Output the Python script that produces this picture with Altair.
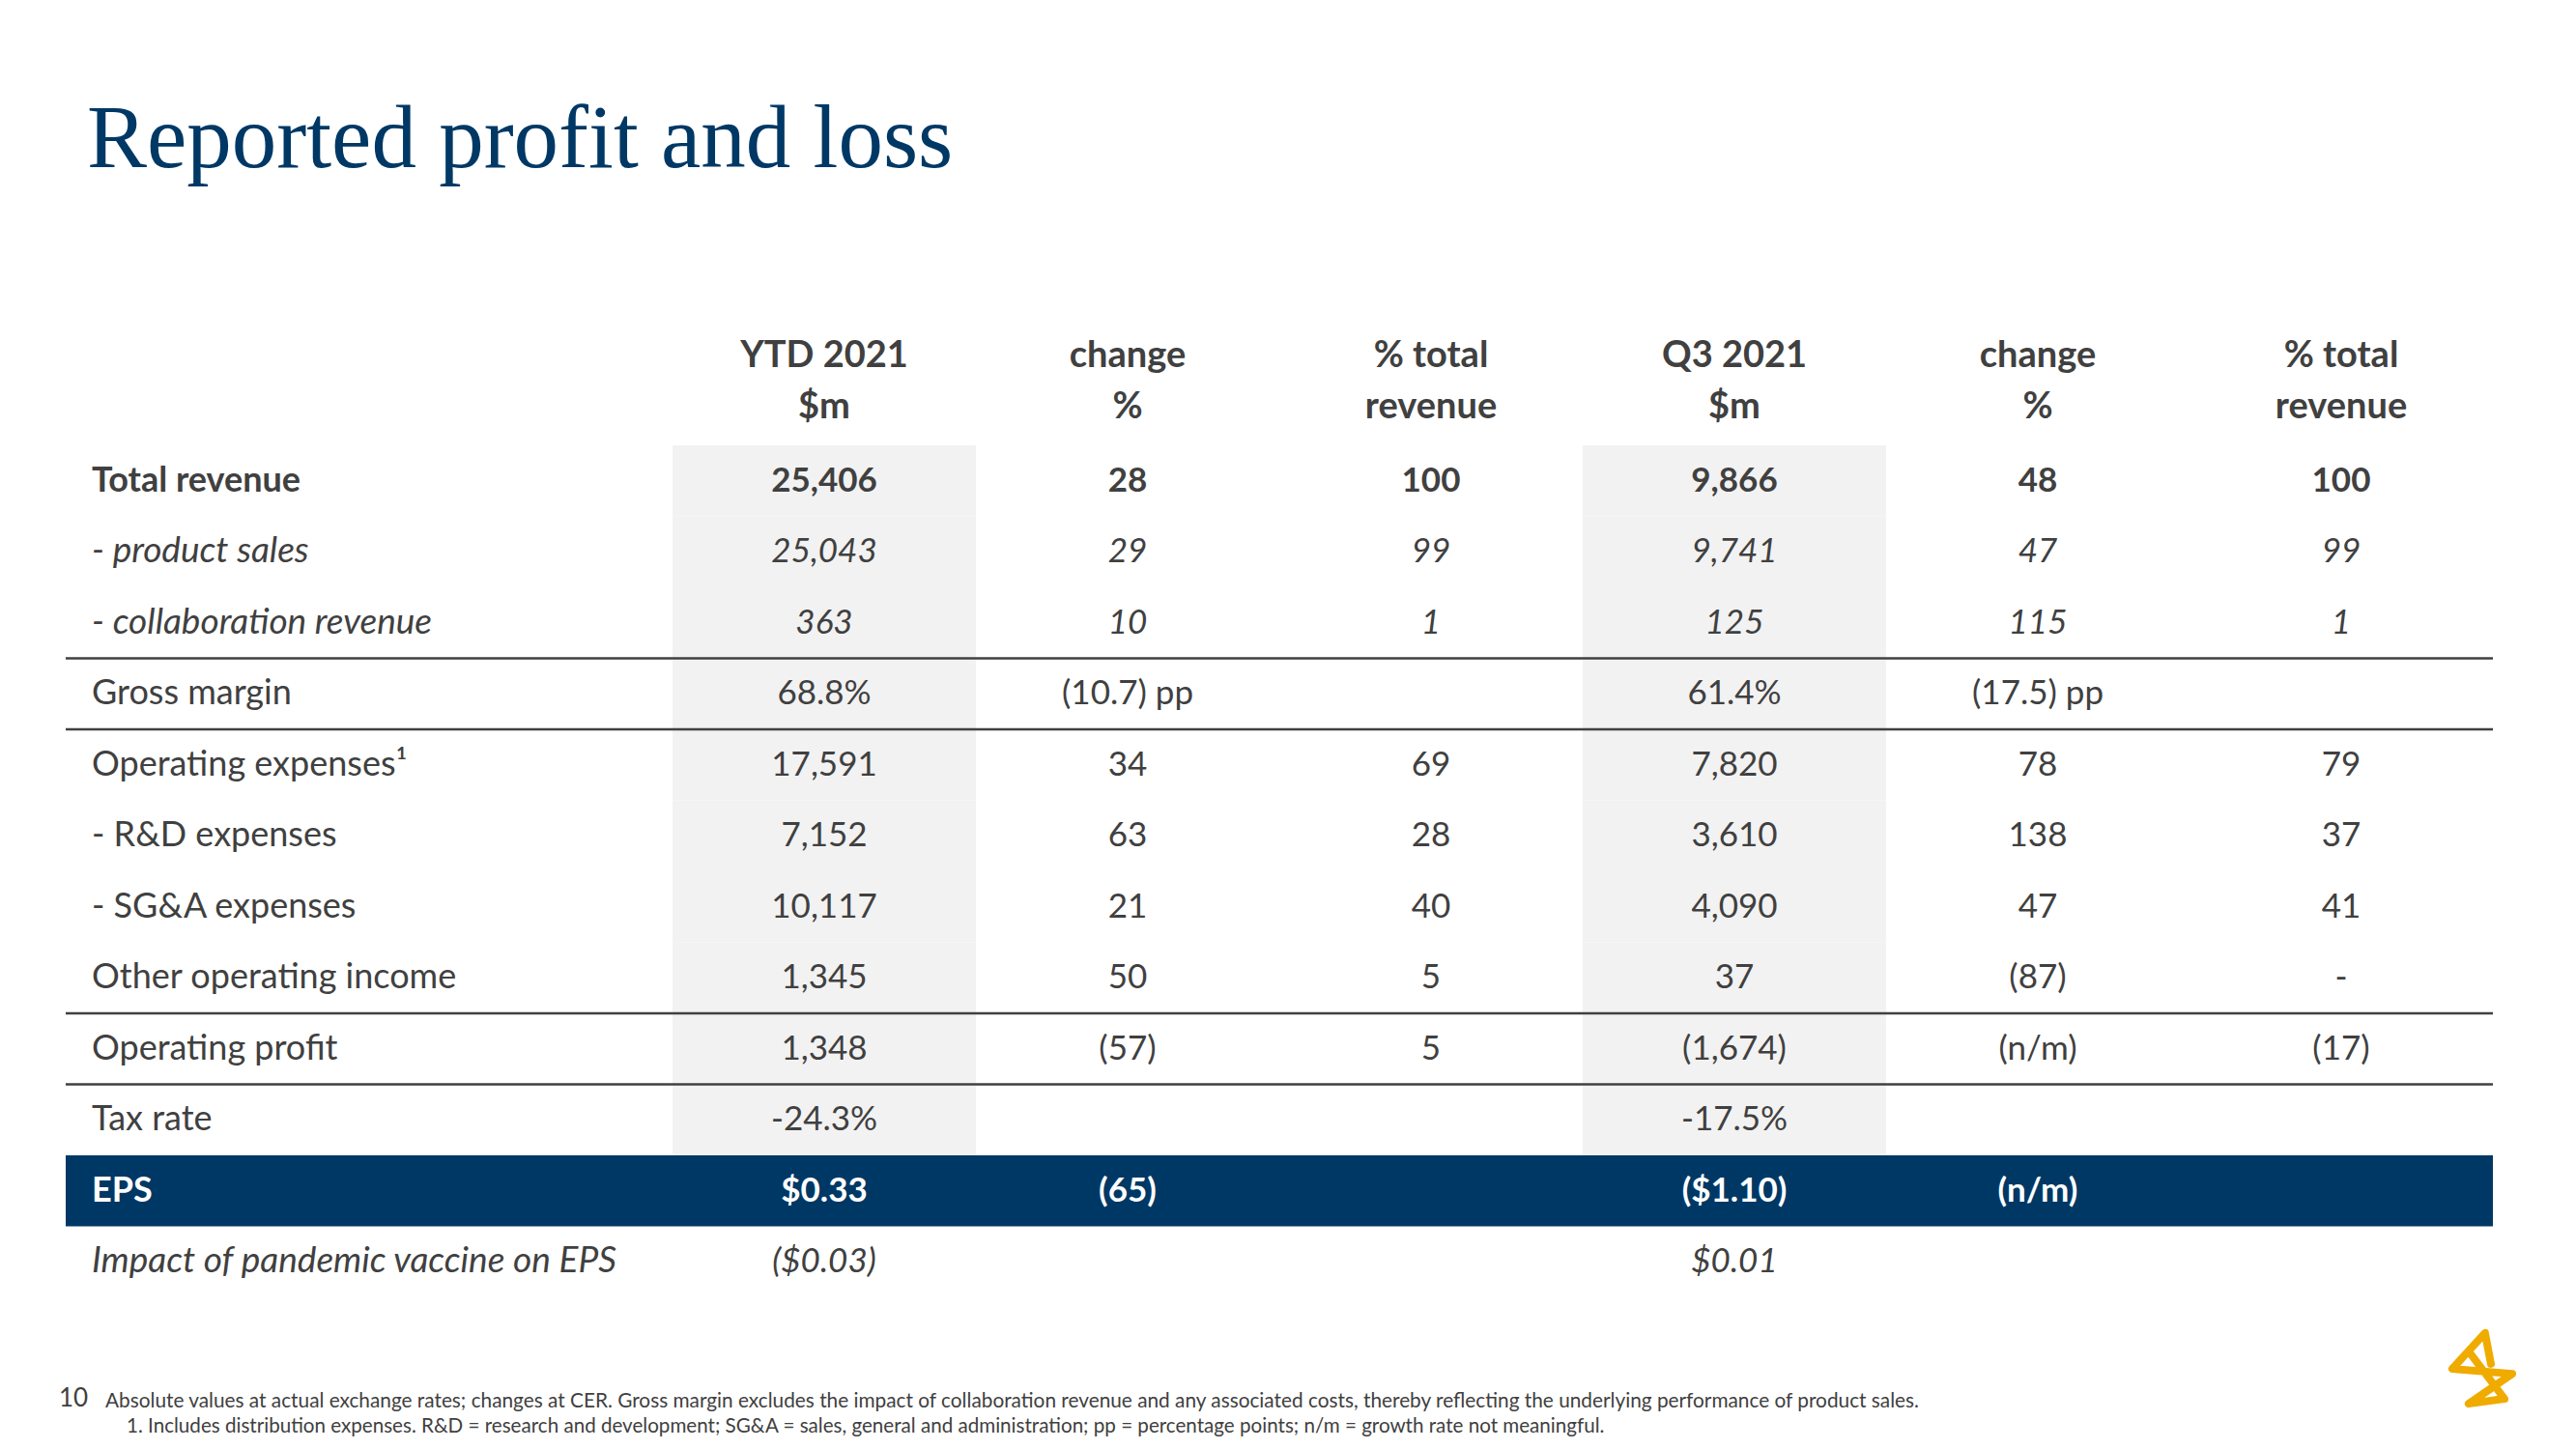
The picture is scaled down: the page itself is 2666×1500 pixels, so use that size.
import altair as alt
import pandas as pd

# ---------------- data ----------------
title_text = "Reported profit and loss"

row_labels = ["Total revenue", "- product sales", "- collaboration revenue", "Gross margin",
              "Operating expenses\u00b9", "- R&D expenses", "- SG&A expenses",
              "Other operating income", "Operating profit", "Tax rate", "EPS",
              "Impact of pandemic vaccine on EPS"]
row_styles = ["bold", "italic", "italic", "normal", "normal", "normal", "normal",
              "normal", "normal", "normal", "eps", "italic"]

col_keys = ["ytd", "ytd_chg", "ytd_pct", "q3", "q3_chg", "q3_pct"]
header_line1 = ["YTD 2021", "change", "% total", "Q3 2021", "change", "% total"]
header_line2 = ["$m", "%", "revenue", "$m", "%", "revenue"]

ytd = ["25,406", "25,043", "363", "68.8%", "17,591", "7,152", "10,117", "1,345", "1,348", "-24.3%", "$0.33", "($0.03)"]
ytd_chg = ["28", "29", "10", "(10.7) pp", "34", "63", "21", "50", "(57)", "", "(65)", ""]
ytd_pct = ["100", "99", "1", "", "69", "28", "40", "5", "5", "", "", ""]
q3 = ["9,866", "9,741", "125", "61.4%", "7,820", "3,610", "4,090", "37", "(1,674)", "-17.5%", "($1.10)", "$0.01"]
q3_chg = ["48", "47", "115", "(17.5) pp", "78", "138", "47", "(87)", "(n/m)", "", "(n/m)", ""]
q3_pct = ["100", "99", "1", "", "79", "37", "41", "-", "(17)", "", "", ""]

shaded_cols = ["ytd", "q3"]
shaded_rows = row_labels[:10]
ruled_rows = ["- collaboration revenue", "Gross margin", "Other operating income", "Operating profit"]
highlight_row = "EPS"

footnote_page = "10"
footnote_1 = ("Absolute values at actual exchange rates; changes at CER. Gross margin excludes the impact of "
              "collaboration revenue and any associated costs, thereby reflecting the underlying performance of product sales.")
footnote_2 = ("1. Includes distribution expenses.  R&D = research and development;  SG&A = sales, general and "
              "administration; pp = percentage  points; n/m = growth rate not meaningful.")

# ---------------- styling ----------------
NAVY = "#003865"
GREY_TXT = "#404040"
SHADE = "#f2f2f2"
GOLD = "#F0AB00"
FONT = "Lato"

x_domain = ["lab_a", "lab_b"] + col_keys
x_scale = alt.Scale(domain=x_domain, range=[60, 2572], paddingInner=0, paddingOuter=0)
y_scale = alt.Scale(domain=row_labels, range=[453, 1335], paddingInner=0, paddingOuter=0)

# ---------------- tables ----------------
cols_values = {"ytd": ytd, "ytd_chg": ytd_chg, "ytd_pct": ytd_pct,
               "q3": q3, "q3_chg": q3_chg, "q3_pct": q3_pct}
recs = []
for i, r in enumerate(row_labels):
    for c in col_keys:
        recs.append({"row": r, "col": c, "txt": cols_values[c][i], "style": row_styles[i]})
cells = pd.DataFrame(recs)
labels = pd.DataFrame({"row": row_labels, "col": "lab_a", "txt": row_labels, "style": row_styles})
allcells = pd.concat([labels, cells], ignore_index=True)

shade_df = pd.DataFrame([{"row": r, "col": c} for r in shaded_rows for c in shaded_cols])
rule_df = pd.DataFrame({"row": ruled_rows})
eps_df = pd.DataFrame({"row": [highlight_row]})
header_df = pd.DataFrame({"col": col_keys, "l1": header_line1, "l2": header_line2})

X = lambda bp: alt.X("col:N", scale=x_scale, axis=None, bandPosition=bp)
Y = lambda bp: alt.Y("row:N", scale=y_scale, axis=None, bandPosition=bp)

shade = alt.Chart(shade_df).mark_rect(color=SHADE).encode(
    x=alt.X("col:N", scale=x_scale, axis=None),
    y=alt.Y("row:N", scale=y_scale, axis=None),
)

eps_band = alt.Chart(eps_df).mark_rect(color=NAVY).encode(
    x=alt.value(60), x2=alt.value(2572),
    y=alt.Y("row:N", scale=y_scale, axis=None),
)

rules = alt.Chart(rule_df).mark_rule(color=GREY_TXT, strokeWidth=2.5).encode(
    x=alt.value(60), x2=alt.value(2572),
    y=Y(1),
)

def text_layer(style, weight, fstyle, color, label, size):
    src = alt.Chart(allcells).transform_filter(alt.datum.style == style)
    if label:
        src = src.transform_filter(alt.datum.col == "lab_a")
        m = src.mark_text(font=FONT, fontSize=size, fontWeight=weight, fontStyle=fstyle, color=color,
                          align="left", baseline="middle", dx=27)
        return m.encode(x=X(0), y=Y(0.5), text="txt:N")
    src = src.transform_filter(alt.datum.col != "lab_a")
    m = src.mark_text(font=FONT, fontSize=size, fontWeight=weight, fontStyle=fstyle, color=color,
                      align="center", baseline="middle")
    return m.encode(x=X(0.5), y=Y(0.5), text="txt:N")

texts = []
for st, w, fs, colr, lsize in [("normal", "normal", "normal", GREY_TXT, 36),
                               ("bold", "bold", "normal", GREY_TXT, 36),
                               ("italic", "normal", "italic", GREY_TXT, 37),
                               ("eps", "bold", "normal", "white", 36)]:
    texts.append(text_layer(st, w, fs, colr, True, lsize))
    texts.append(text_layer(st, w, fs, colr, False, 35))

head1 = alt.Chart(header_df).mark_text(font=FONT, fontSize=38, fontWeight="bold", color=GREY_TXT,
                                       align="center", baseline="middle").encode(
    x=X(0.5), y=alt.value(361), text="l1:N")
head2 = alt.Chart(header_df).mark_text(font=FONT, fontSize=38, fontWeight="bold", color=GREY_TXT,
                                       align="center", baseline="middle").encode(
    x=X(0.5), y=alt.value(414), text="l2:N")

title = alt.Chart(pd.DataFrame({"t": [title_text]})).mark_text(
    font="Liberation Serif", fontSize=93, color=NAVY, align="left", baseline="alphabetic").encode(
    x=alt.value(82), y=alt.value(165), text="t:N")

fn_page = alt.Chart(pd.DataFrame({"t": [footnote_page]})).mark_text(
    font=FONT, fontSize=26, color=GREY_TXT, align="left", baseline="alphabetic").encode(
    x=alt.value(53), y=alt.value(1448), text="t:N")
fn1 = alt.Chart(pd.DataFrame({"t": [footnote_1]})).mark_text(
    font=FONT, fontSize=20.8, color=GREY_TXT, align="left", baseline="alphabetic").encode(
    x=alt.value(101), y=alt.value(1449), text="t:N")
fn2 = alt.Chart(pd.DataFrame({"t": [footnote_2]})).mark_text(
    font=FONT, fontSize=20.6, color=GREY_TXT, align="left", baseline="alphabetic").encode(
    x=alt.value(123), y=alt.value(1475), text="t:N")

logo_path = "M 0.28 -0.16 L 0.09 -1.16 L -0.97 0 L 0.97 0.16 L -0.44 1.13 L 0.72 0.97 L -0.41 -0.53"
logo = alt.Chart(pd.DataFrame({"t": ["logo"]})).mark_point(
    shape=logo_path, filled=False, stroke=GOLD, strokeWidth=8, strokeJoin="round", strokeCap="round",
    size=4096, opacity=1).encode(x=alt.value(2561), y=alt.value(1409))

chart = alt.layer(shade, eps_band, rules, *texts, head1, head2, title, fn_page, fn1, fn2, logo).properties(
    width=2650, height=1484, padding=0, autosize=alt.AutoSizeParams(type="none")
).configure(background="white").configure_view(strokeWidth=0)

chart.save("out.html", embed_options={"renderer": "svg", "actions": False})
